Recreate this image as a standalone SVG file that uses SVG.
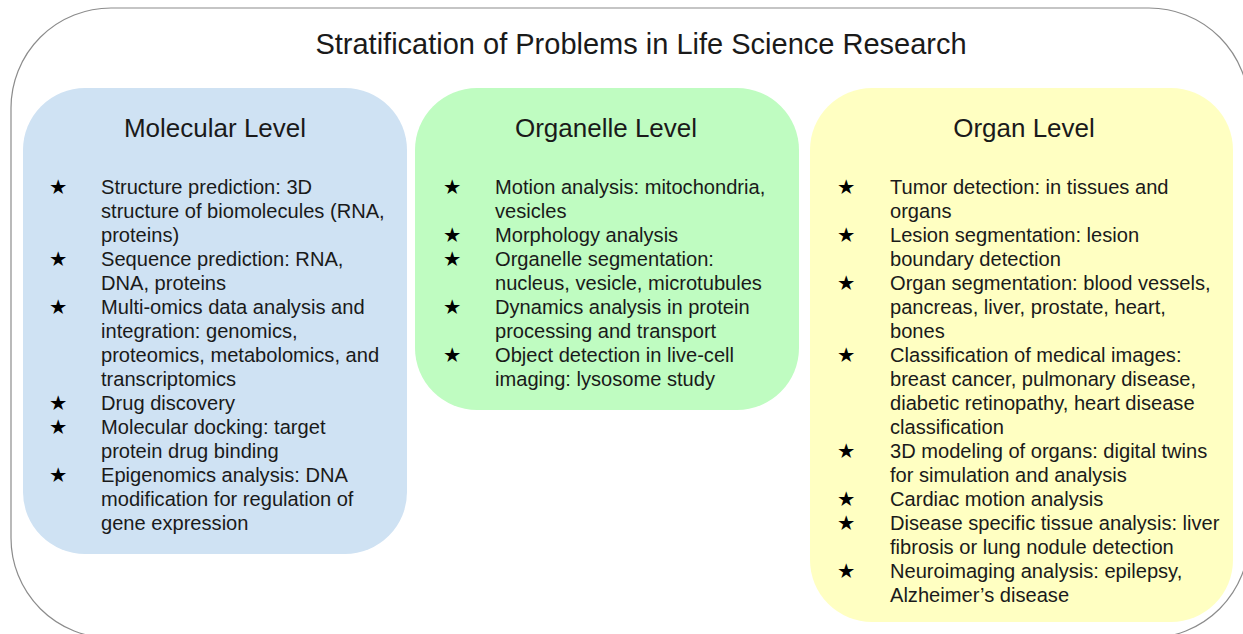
<svg xmlns="http://www.w3.org/2000/svg" width="1243" height="634" viewBox="0 0 1243 634">
<style>
text{font-family:"Liberation Sans",Arial,sans-serif;fill:#1a1a1a}
.title{font-size:29px;text-anchor:middle}
.hdr{font-size:26px;text-anchor:middle}
.it{font-size:20.1px}
.st{font-family:"DejaVu Sans",sans-serif;font-size:20.5px;fill:#000}
</style>
<rect x="11" y="8" width="1238" height="630" rx="100" ry="100" fill="#fff" stroke="#8c8c8c" stroke-width="1.2"/>
<text class="title" x="641" y="54">Stratification of Problems in Life Science Research</text>
<g id="molecular">
<rect x="23" y="88" width="384" height="466" rx="62" fill="#cfe2f3"/>
<text class="hdr" x="215" y="137">Molecular Level</text>
<text class="it"><tspan class="st" x="49" y="194">★</tspan><tspan x="101" y="194">Structure prediction: 3D</tspan><tspan x="101" y="218">structure of biomolecules (RNA,</tspan><tspan x="101" y="242">proteins)</tspan><tspan class="st" x="49" y="266">★</tspan><tspan x="101" y="266">Sequence prediction: RNA,</tspan><tspan x="101" y="290">DNA, proteins</tspan><tspan class="st" x="49" y="314">★</tspan><tspan x="101" y="314">Multi-omics data analysis and</tspan><tspan x="101" y="338">integration: genomics,</tspan><tspan x="101" y="362">proteomics, metabolomics, and</tspan><tspan x="101" y="386">transcriptomics</tspan><tspan class="st" x="49" y="410">★</tspan><tspan x="101" y="410">Drug discovery</tspan><tspan class="st" x="49" y="434">★</tspan><tspan x="101" y="434">Molecular docking: target</tspan><tspan x="101" y="458">protein drug binding</tspan><tspan class="st" x="49" y="482">★</tspan><tspan x="101" y="482">Epigenomics analysis: DNA</tspan><tspan x="101" y="506">modification for regulation of</tspan><tspan x="101" y="530">gene expression</tspan></text>
</g>
<g id="organelle">
<rect x="415" y="88" width="384" height="322" rx="62" fill="#bffcc1"/>
<text class="hdr" x="606" y="137">Organelle Level</text>
<text class="it"><tspan class="st" x="443" y="194">★</tspan><tspan x="495" y="194">Motion analysis: mitochondria,</tspan><tspan x="495" y="218">vesicles</tspan><tspan class="st" x="443" y="242">★</tspan><tspan x="495" y="242">Morphology analysis</tspan><tspan class="st" x="443" y="266">★</tspan><tspan x="495" y="266">Organelle segmentation:</tspan><tspan x="495" y="290">nucleus, vesicle, microtubules</tspan><tspan class="st" x="443" y="314">★</tspan><tspan x="495" y="314">Dynamics analysis in protein</tspan><tspan x="495" y="338">processing and transport</tspan><tspan class="st" x="443" y="362">★</tspan><tspan x="495" y="362">Object detection in live-cell</tspan><tspan x="495" y="386">imaging: lysosome study</tspan></text>
</g>
<g id="organ">
<rect x="810" y="88" width="423" height="534" rx="62" fill="#ffffc2"/>
<text class="hdr" x="1024" y="137">Organ Level</text>
<text class="it"><tspan class="st" x="837" y="194">★</tspan><tspan x="890" y="194">Tumor detection: in tissues and</tspan><tspan x="890" y="218">organs</tspan><tspan class="st" x="837" y="242">★</tspan><tspan x="890" y="242">Lesion segmentation: lesion</tspan><tspan x="890" y="266">boundary detection</tspan><tspan class="st" x="837" y="290">★</tspan><tspan x="890" y="290">Organ segmentation: blood vessels,</tspan><tspan x="890" y="314">pancreas, liver, prostate, heart,</tspan><tspan x="890" y="338">bones</tspan><tspan class="st" x="837" y="362">★</tspan><tspan x="890" y="362">Classification of medical images:</tspan><tspan x="890" y="386">breast cancer, pulmonary disease,</tspan><tspan x="890" y="410">diabetic retinopathy, heart disease</tspan><tspan x="890" y="434">classification</tspan><tspan class="st" x="837" y="458">★</tspan><tspan x="890" y="458">3D modeling of organs: digital twins</tspan><tspan x="890" y="482">for simulation and analysis</tspan><tspan class="st" x="837" y="506">★</tspan><tspan x="890" y="506">Cardiac motion analysis</tspan><tspan class="st" x="837" y="530">★</tspan><tspan x="890" y="530">Disease specific tissue analysis: liver</tspan><tspan x="890" y="554">fibrosis or lung nodule detection</tspan><tspan class="st" x="837" y="578">★</tspan><tspan x="890" y="578">Neuroimaging analysis: epilepsy,</tspan><tspan x="890" y="602">Alzheimer’s disease</tspan></text>
</g>
<g id="connectors"/>
</svg>
